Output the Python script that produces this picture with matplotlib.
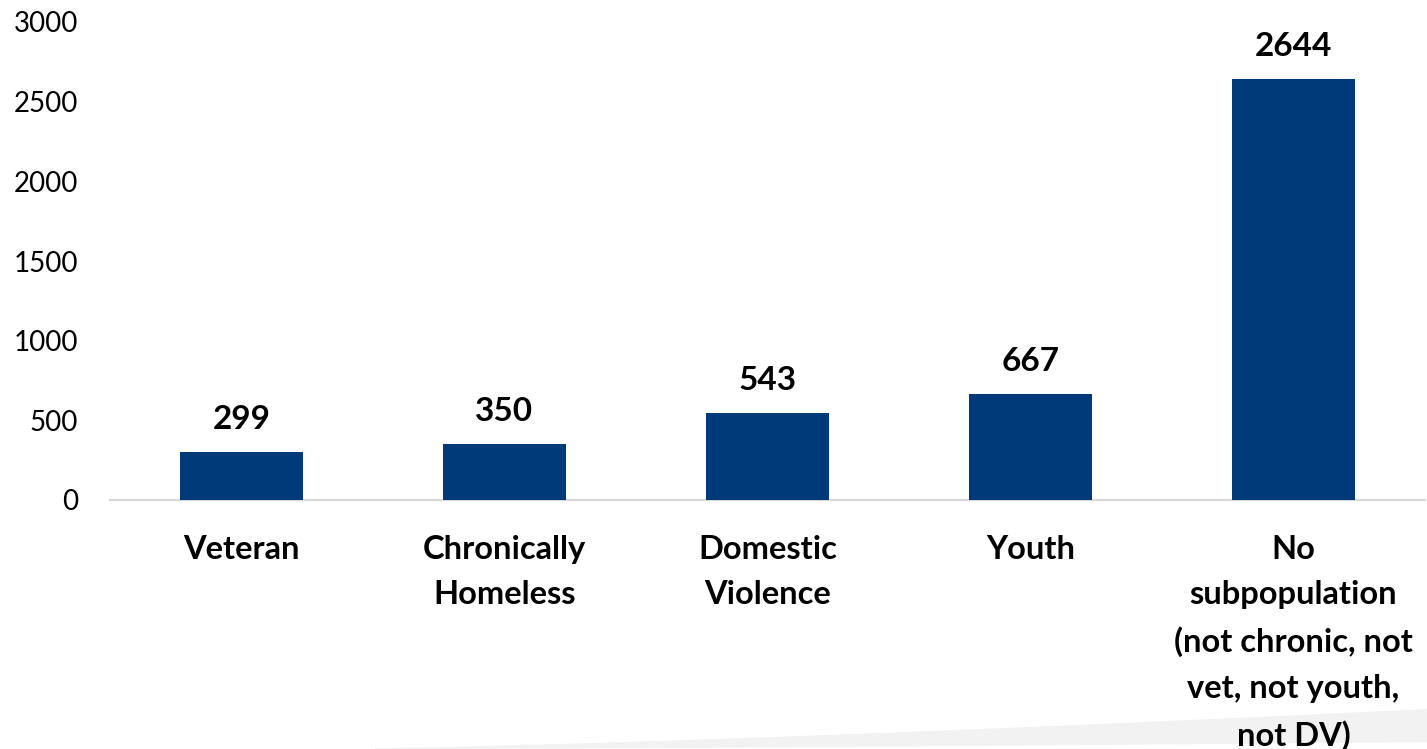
import matplotlib
matplotlib.use("Agg")
import matplotlib.pyplot as plt
from matplotlib.patches import Polygon
import numpy as np

categories = ["Veteran", "Chronically\nHomeless", "Domestic\nViolence", "Youth",
              "No\nsubpopulation\n(not chronic, not\nvet, not youth,\nnot DV)"]
counts = [299, 350, 543, 667, 2644]
yticks = [0, 500, 1000, 1500, 2000, 2500, 3000]

plt.rcParams["font.family"] = ["Lato", "DejaVu Sans"]

fig = plt.figure(figsize=(14.27, 7.49), dpi=100)
ax = fig.add_axes([110 / 1427, 1 - 500 / 749, 1315 / 1427, (500 - 22) / 749])

x = np.arange(len(categories))
bars = ax.bar(x, counts, width=0.465, color="#003A78", zorder=3)

for xi, v in zip(x, counts):
    ax.annotate(str(v), (xi, v), xytext=(0, 13), textcoords="offset points",
                ha="center", va="bottom", fontsize=24, fontweight="bold", color="black")

ax.set_xlim(-0.5, len(categories) - 0.5)
ax.set_ylim(0, 3000)
ax.set_yticks(yticks)
ax.set_yticklabels([str(t) for t in yticks], fontsize=20)
ax.set_xticks(x)
ax.set_xticklabels(categories, fontsize=23.5, fontweight="bold", linespacing=1.68, va="top")
ax.tick_params(axis="y", length=0, pad=23)
ax.tick_params(axis="x", length=0, pad=25)

for side in ["top", "right", "left"]:
    ax.spines[side].set_visible(False)
ax.spines["bottom"].set_color("#D9D9D9")
ax.spines["bottom"].set_linewidth(1.5)

# light gray swoosh along the lower edge, behind everything
W, H = 1427, 749
t = np.linspace(0, 1, 60)
top_x = 375 + (W - 375) * t
top_y = 748 - 39 * t ** 1.3
bot_x = top_x[::-1]
bot_y = 749 - 7 * t[::-1] ** 1.5
pts = np.column_stack([np.concatenate([top_x, bot_x]) / W,
                       1 - np.concatenate([top_y, bot_y]) / H])
fig.patches.append(Polygon(pts, closed=True, transform=fig.transFigure,
                           facecolor="#F2F2F2", edgecolor="none", zorder=-1))

fig.savefig("out.png", dpi=100)
